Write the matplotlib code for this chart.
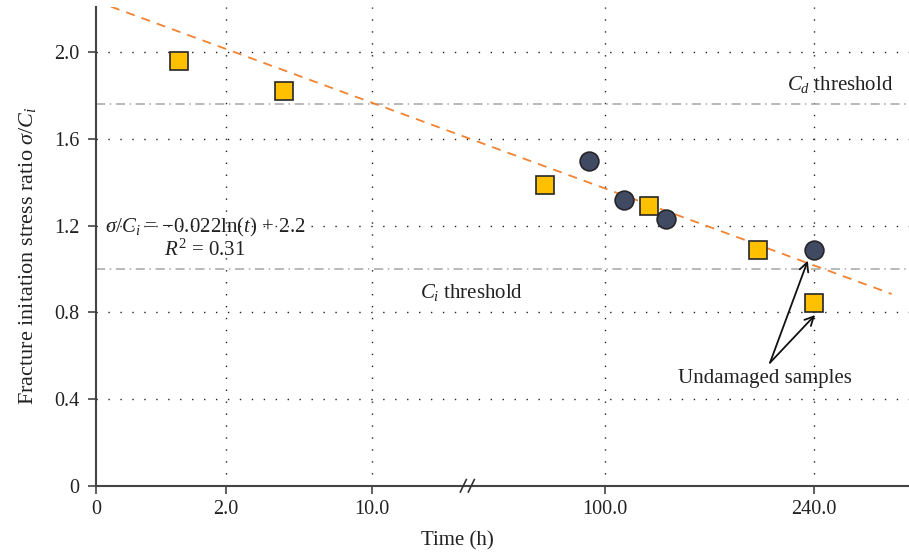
import numpy as np
import matplotlib
matplotlib.use("Agg")
import matplotlib.pyplot as plt

plt.rcParams["font.family"] = ["Liberation Serif", "DejaVu Serif"]
plt.rcParams["mathtext.fontset"] = "custom"
plt.rcParams["mathtext.rm"] = "Liberation Serif"
plt.rcParams["mathtext.it"] = "Liberation Serif:italic"
plt.rcParams["mathtext.bf"] = "Liberation Serif:bold"

# ---- data -------------------------------------------------------------
# samples exposed for a given time (h) and their fracture initiation stress ratio
square_time = [1.28, 5.2, 77.0, 129.7, 202.7, 240.0]
square_ratio = [1.96, 1.82, 1.39, 1.29, 1.09, 0.845]

circle_time = [93.8, 112.7, 141.0, 240.0]
circle_ratio = [1.50, 1.32, 1.23, 1.09]

# fitted trend, drawn between its end points
trend_time = [0.23, 292.0]
trend_ratio = [2.211, 0.885]

cd_threshold = 1.76
ci_threshold = 1.00

x_ticks = [0, 2, 10, 100, 240]
x_tick_labels = ["0", "2.0", "10.0", "100.0", "240.0"]
y_ticks = [0, 0.4, 0.8, 1.2, 1.6, 2.0]
y_tick_labels = ["0", "0.4", "0.8", "1.2", "1.6", "2.0"]

# piecewise time axis: anchor times and their positions along the axis
axis_times = np.array([0.0, 2.0, 10.0, 100.0, 240.0, 320.0])
axis_pos = np.array([0.0, 1.30, 2.76, 5.09, 7.18, 8.374])


def fwd(t):
    return np.interp(t, axis_times, axis_pos)


def inv(p):
    return np.interp(p, axis_pos, axis_times)


# ---- figure -----------------------------------------------------------
fig = plt.figure(figsize=(9.09, 5.56), dpi=100)
ax = fig.add_axes([0.1056, 0.1263, 0.8944, 0.8606])
ax.set_xscale("function", functions=(fwd, inv))
ax.set_xlim(0, 303.6)
ax.set_ylim(0, 2.208)

grid_kw = dict(color="#222222", lw=1.0, dashes=(1.0, 7.6), zorder=1)
for t in x_ticks[1:]:
    ax.axvline(t, **grid_kw)
for v in y_ticks[1:]:
    ax.axhline(v, **grid_kw)

thr_kw = dict(color="#a6a6a6", lw=1.1, dashes=(6, 3, 1, 3), zorder=2)
ax.axhline(cd_threshold, **thr_kw)
ax.axhline(ci_threshold, **thr_kw)

ax.plot(trend_time, trend_ratio, color="#f08331", lw=1.3, dashes=(5, 4),
        zorder=3)

ax.plot(square_time, square_ratio, ls="none", marker="s", ms=12.3,
        mfc="#ffc000", mec="#262626", mew=1.2, zorder=5)
ax.plot(circle_time, circle_ratio, ls="none", marker="o", ms=13.5,
        mfc="#414a63", mec="#262626", mew=1.2, zorder=5)

# axes styling
for side in ("top", "right"):
    ax.spines[side].set_visible(False)
for side in ("left", "bottom"):
    ax.spines[side].set_color("#444444")
    ax.spines[side].set_linewidth(1.5)
ax.tick_params(direction="out", length=6, width=1.2, color="#444444",
               labelsize=14.5, labelcolor="#222222")
ax.tick_params(axis="x", pad=4)
ax.tick_params(axis="y", pad=6)
ax.set_xticks(x_ticks)
ax.set_xticklabels(x_tick_labels)
ax.set_yticks(y_ticks)
ax.set_yticklabels(y_tick_labels)
ax.minorticks_off()

ax.set_xlabel("Time (h)", fontsize=15, color="#222222")
ax.xaxis.set_label_coords(0.445, -0.094)
ax.set_ylabel(r"Fracture initation stress ratio $\sigma/C_i$", fontsize=16,
              color="#222222")
ax.yaxis.set_label_coords(-0.071, 0.48)

# axis break marks on the time axis
brk_t = 47.0
bx = fwd(brk_t)
trans = ax.get_xaxis_transform()
for off in (-0.045, 0.035):
    p0 = inv(bx + off - 0.03)
    p1 = inv(bx + off + 0.03)
    ax.plot([p0, p1], [-0.013, 0.013], transform=trans, color="#333333",
            lw=1.2, clip_on=False, zorder=6)

# annotations
txt_kw = dict(fontsize=15, color="#222222")
ax.text(1.68, 1.19, r"$\sigma/C_i$ = −0.022ln($t$) + 2.2", ha="center",
        va="center", **txt_kw)
ax.text(1.68, 1.088, r"$R^2$ = 0.31", ha="center", va="center", **txt_kw)
ax.text(48.6, 0.89, r"$C_i$ threshold", ha="center", va="center", **txt_kw)
ax.text(257.4, 1.85, r"$C_d$ threshold", ha="center", va="center", **txt_kw)
ax.text(206.8, 0.493, "Undamaged samples", ha="center", va="center", **txt_kw)

arrow_kw = dict(arrowstyle="->", color="#111111", lw=1.3,
                shrinkA=0, shrinkB=0, mutation_scale=16)
ax.annotate("", xy=(235.8, 1.039), xytext=(210.5, 0.568),
            arrowprops=arrow_kw)
ax.annotate("", xy=(240.7, 0.788), xytext=(210.5, 0.568),
            arrowprops=arrow_kw)

fig.savefig("out.png", dpi=100)
